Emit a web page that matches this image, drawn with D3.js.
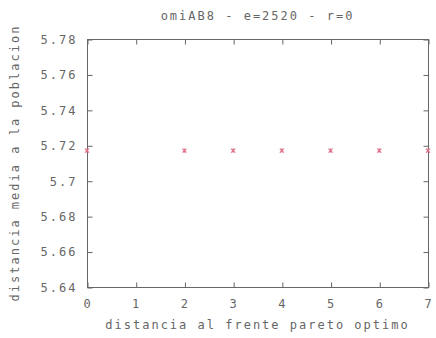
<!DOCTYPE html>
<html>
<head>
<meta charset="utf-8">
<script src="https://cdn.jsdelivr.net/npm/d3@7"></script>
<style>
  body { margin: 0; background: #fff; }
  text { font-family: "DejaVu Sans Mono", monospace; font-size: 12px; letter-spacing: 2px; fill: #666; }
</style>
</head>
<body>
<svg id="chart" width="436" height="338"></svg>
<script>
// values
const xValues = [0, 2, 3, 4, 5, 6, 7];
const yValues = [5.717, 5.717, 5.717, 5.717, 5.717, 5.717, 5.717];
const xTicks = [0, 1, 2, 3, 4, 5, 6, 7];
const yTicks = [5.64, 5.66, 5.68, 5.7, 5.72, 5.74, 5.76, 5.78];
const title = "omiAB8 - e=2520 - r=0";
const xLabel = "distancia al frente pareto optimo";
const yLabel = "distancia media a la poblacion";

let svg = d3.select("#chart");
let width = +svg.attr("width");
let height = +svg.attr("height");
const margin = { top: 39, right: 8, bottom: 51, left: 87 };

const x = d3.scaleLinear().domain([0, 7]).range([margin.left, width - margin.right]);
const y = d3.scaleLinear().domain([5.64, 5.78]).range([height - margin.bottom, margin.top]);

const frameColor = "#666";
const tickLen = 5;

// frame
svg.append("rect")
  .attr("x", x(0) + 0.5)
  .attr("y", y(5.78) + 0.5)
  .attr("width", x(7) - x(0))
  .attr("height", y(5.64) - y(5.78))
  .attr("fill", "none")
  .attr("stroke", frameColor);

// axes with inward ticks (mirrored, gnuplot style)
const fmt = d3.format("~g");
const axisB = svg.append("g").attr("transform", `translate(0.5,${y(5.64) + 0.5})`)
  .call(d3.axisBottom(x).tickValues(xTicks).tickFormat(fmt).tickSizeInner(-tickLen).tickSizeOuter(0).tickPadding(12));
const axisT = svg.append("g").attr("transform", `translate(0.5,${y(5.78) + 0.5})`)
  .call(d3.axisTop(x).tickValues(xTicks).tickFormat("").tickSizeInner(-tickLen).tickSizeOuter(0));
const axisL = svg.append("g").attr("transform", `translate(${x(0) + 0.5},0.5)`)
  .call(d3.axisLeft(y).tickValues(yTicks).tickFormat(fmt).tickSizeInner(-tickLen).tickSizeOuter(0).tickPadding(10));
const axisR = svg.append("g").attr("transform", `translate(${x(7) + 0.5},0.5)`)
  .call(d3.axisRight(y).tickValues(yTicks).tickFormat("").tickSizeInner(-tickLen).tickSizeOuter(0));

[axisB, axisT, axisL, axisR].forEach((a) => {
  a.select(".domain").remove();
  a.selectAll("line").attr("stroke", frameColor);
  a.selectAll("text").attr("fill", "#666").attr("font-family", null).attr("font-size", null);
});

// points
const s = 2;
const pts = svg.append("g").attr("stroke", "#e0708c").attr("stroke-width", 1.3);
xValues.forEach((xv, i) => {
  const cx = x(xv), cy = y(yValues[i]);
  pts.append("line").attr("x1", cx - s).attr("y1", cy - s).attr("x2", cx + s).attr("y2", cy + s);
  pts.append("line").attr("x1", cx - s).attr("y1", cy + s).attr("x2", cx + s).attr("y2", cy - s);
  pts.append("line").attr("x1", cx).attr("y1", cy - s).attr("x2", cx).attr("y2", cy + s);
});

// labels
svg.append("text")
  .attr("x", (x(0) + x(7)) / 2)
  .attr("y", 20)
  .attr("text-anchor", "middle")
  .text(title);

svg.append("text")
  .attr("x", (x(0) + x(7)) / 2)
  .attr("y", 329)
  .attr("text-anchor", "middle")
  .text(xLabel);

svg.append("text")
  .attr("transform", `translate(19,${(y(5.64) + y(5.78)) / 2}) rotate(-90)`)
  .attr("text-anchor", "middle")
  .text(yLabel);
</script>
</body>
</html>
